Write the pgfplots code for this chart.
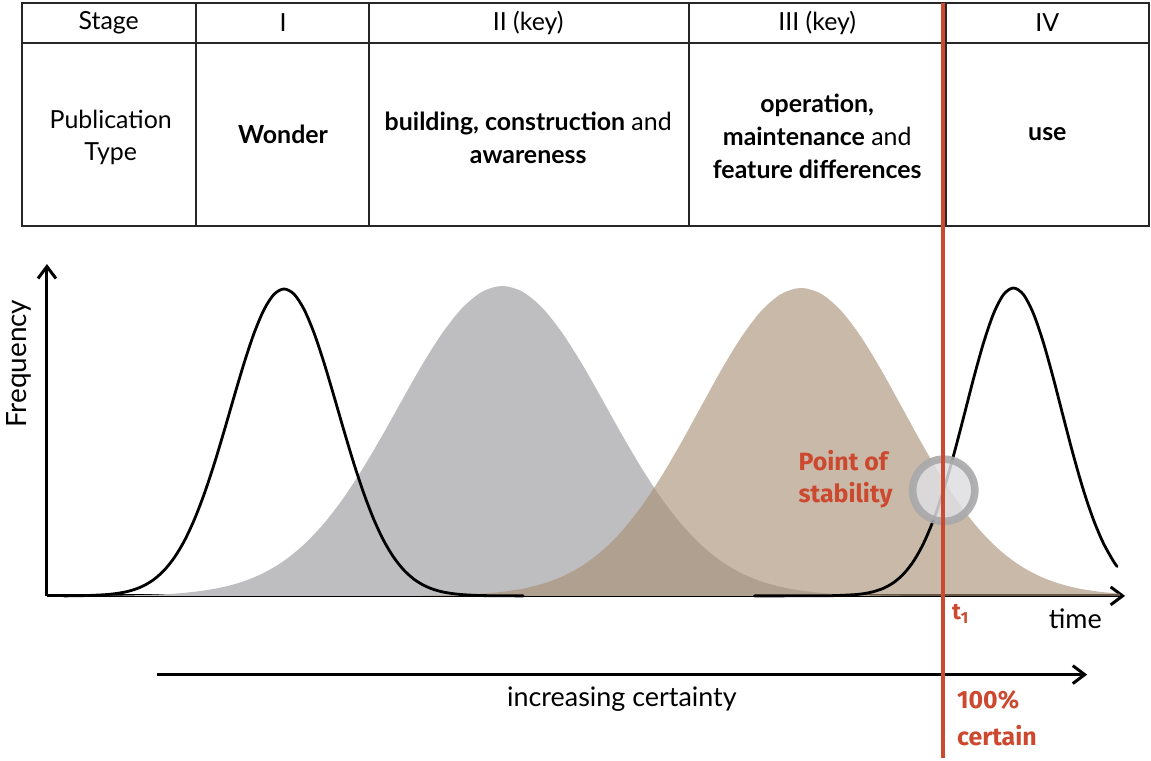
\documentclass[border=0pt]{standalone}
\usepackage{fontspec}
\setmainfont{Lato}
\newfontfamily\redfont{Fira Sans}
\usepackage{pgfplots}
\pgfplotsset{compat=1.18}
\usetikzlibrary{arrows.meta}

\definecolor{grayfill}{RGB}{190,190,192}
\definecolor{tanfill}{RGB}{168,142,115}
\definecolor{stabred}{RGB}{204,72,46}
\definecolor{ringgray}{RGB}{168,168,170}
\definecolor{innergray}{RGB}{222,222,226}

% 1 unit = 1 px of the reference = 0.5pt
\begin{document}
\begin{tikzpicture}
\begin{axis}[
  scale only axis,
  width=541pt, height=166.5pt,
  xmin=43, xmax=1125, ymin=0, ymax=333,
  axis lines=left,
  axis line style={line width=1.5pt, -{Straight Barb[length=6pt,width=9pt,line width=1.5pt]}},
  xtick=\empty, ytick=\empty,
  clip=false,
  xlabel={time},
  xlabel style={at={(rel axis cs:0.9538,-0.0691)}, anchor=center, font=\fontsize{13.5}{15}\selectfont},
  ylabel={Frequency},
  ylabel style={at={(rel axis cs:-0.0259,0.6997)}, anchor=center, font=\fontsize{14}{15}\selectfont},
]
% invisible frame = full picture
\path (axis cs:0,-163) rectangle (axis cs:1151,598);

% stage II (gray)
\addplot[fill=grayfill, draw=none, smooth] coordinates {
  (100,0.2) (120,0.4) (140,0.9) (160,1.6) (180,3.0) (200,5.3) (220,8.9)
  (240,14.5) (260,22.8) (280,34.6) (300,50.7) (320,71.6) (340,97.4)
  (360,127.9) (380,161.8) (400,197.6) (420,232.7) (440,264.1) (460,289.2)
  (480,305.4) (500,311) (520,305.4) (540,289.2) (560,264.1) (580,232.7)
  (600,197.6) (620,161.8) (640,127.9) (660,97.4) (680,71.6) (700,50.7)
  (720,34.6) (740,22.8) (760,14.5) (780,8.9) (800,5.3) (820,3.0)
  (840,1.6) (860,0.9) (880,0.4) (900,0.2)
} \closedcycle;

% stage III (tan)
\addplot[fill=tanfill, fill opacity=0.62, draw=none, smooth] coordinates {
  (420,0.3) (440,0.6) (460,1.2) (480,2.3) (500,4.1) (520,7.1) (540,12.0)
  (560,19.4) (580,30.2) (600,45.2) (620,65.1) (640,90.3) (660,120.5)
  (680,154.7) (700,191.1) (720,227.2) (740,259.9) (760,286.2) (780,303.1)
  (800,309) (820,303.1) (840,286.2) (860,259.9) (880,227.2) (900,191.1)
  (920,154.7) (940,120.5) (960,90.3) (980,65.1) (1000,45.2) (1020,30.2)
  (1040,19.4) (1060,12.0) (1080,7.1) (1100,4.1) (1120,2.3)
} \closedcycle;

% stage I
\addplot[black, line width=1.4pt, smooth, line cap=round] coordinates {
  (60,0) (81,0.3) (101,1.2) (111,2.2) (121,3.8) (131,6.5) (141,10.7)
  (151,17.0) (161,26.1) (171,38.7) (181,55.4) (191,76.8) (201,102.8)
  (211,132.9) (221,166.1) (231,200.6) (241,234.1) (251,264.0) (261,287.6)
  (271,302.8) (281,308) (291,302.8) (301,287.6) (311,264.0) (321,234.1)
  (331,200.6) (341,166.1) (351,132.9) (361,102.8) (371,76.8) (381,55.4)
  (391,38.7) (401,26.1) (411,17.0) (421,10.7) (431,6.5) (441,3.8)
  (451,2.2) (461,1.2) (481,0.3) (521,0)
};

% stage IV
\addplot[black, line width=1.4pt, smooth, line cap=round] coordinates {
  (753,0) (813,0.1) (833,0.3) (853,1.2) (863,2.3) (873,4.4) (883,7.9)
  (893,13.6) (903,22.4) (913,35.3) (923,53.3) (933,77.1) (943,106.7)
  (953,141.5) (963,179.6) (973,218.4) (983,254.2) (993,283.3) (1003,302.4)
  (1013,309) (1023,302.4) (1033,283.3) (1043,254.2) (1053,218.4)
  (1063,179.6) (1073,141.5) (1083,106.7) (1093,77.1) (1103,53.3)
  (1113,35.3) (1117,29.5)
};

% table
\draw[line width=1pt, black!85] (axis cs:18,371) rectangle (axis cs:1149,595);
\draw[line width=1pt, black!85] (axis cs:18,555) -- (axis cs:1149,555);
\draw[line width=1pt, black!85] (axis cs:193,371) -- (axis cs:193,595);
\draw[line width=1pt, black!85] (axis cs:366,371) -- (axis cs:366,595);
\draw[line width=1pt, black!85] (axis cs:687,371) -- (axis cs:687,595);
\draw[line width=1pt, black!85] (axis cs:945,371) -- (axis cs:945,595);

\begin{scope}[every node/.style={font=\fontsize{12.5}{16.5}\selectfont, align=center, inner sep=0pt}]
\node at (axis cs:105,575) {Stage};
\node at (axis cs:280,575) {I};
\node at (axis cs:526,575) {II (key)};
\node at (axis cs:816,575) {III (key)};
\node at (axis cs:1047,575) {IV};
\node at (axis cs:107,460) {Publication\\Type};
\node at (axis cs:280,463) {\bfseries Wonder};
\node at (axis cs:526,460) {\textbf{building, construction} and\\\textbf{awareness}};
\node at (axis cs:816,461) {\textbf{operation,}\\\textbf{maintenance} and\\\textbf{feature differences}};
\node at (axis cs:1047,463) {\bfseries use};
\end{scope}

% point of stability
\fill[innergray, fill opacity=0.85] (axis cs:943,106) circle[radius=15.75pt];
\draw[ringgray, line width=3.8pt, opacity=0.9] (axis cs:943,106) circle[radius=15.6pt];
\node[anchor=west, align=left, text=stabred, inner sep=0pt,
      font=\redfont\bfseries\fontsize{12.5}{16}\selectfont] at (axis cs:797,117) {Point of\\stability};

% increasing certainty arrow
\draw[line width=1.5pt, -{Straight Barb[length=6pt,width=9pt,line width=1.5pt]}]
  (axis cs:153,-79) -- (axis cs:1087,-79);
\node[font=\fontsize{13.5}{15}\selectfont] at (axis cs:620,-104) {increasing certainty};

% t1 line
\draw[stabred, line width=1.8pt] (axis cs:942,595) -- (axis cs:942,-163);
\node[anchor=west, text=stabred, inner sep=0pt, font=\redfont\bfseries\fontsize{11.5}{12}\selectfont]
  at (axis cs:951,-18) {t\textsubscript{1}};
\node[anchor=west, align=left, text=stabred, inner sep=0pt,
      font=\redfont\bfseries\fontsize{12.5}{18.5}\selectfont] at (axis cs:956,-123) {100\%\\certain};
\end{axis}
\end{tikzpicture}
\end{document}
